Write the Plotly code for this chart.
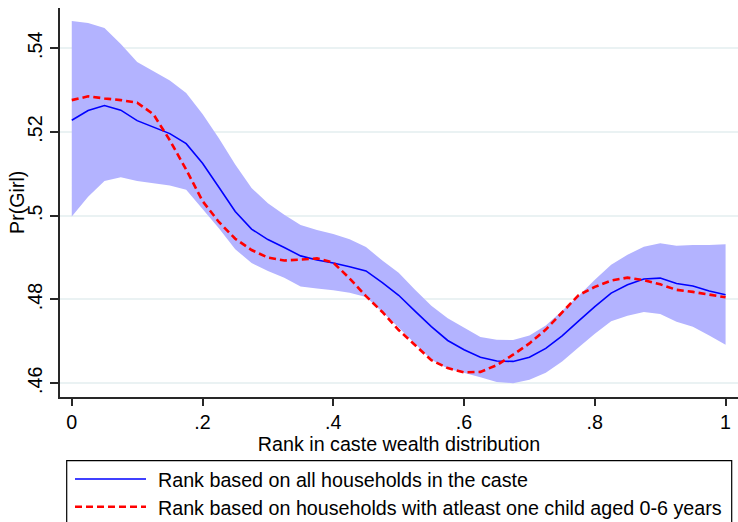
import plotly.graph_objects as go

# Rank in caste wealth distribution (evaluation grid)
rank = [0.000, 0.025, 0.050, 0.075, 0.100, 0.125, 0.150, 0.175, 0.200, 0.225,
        0.250, 0.275, 0.300, 0.325, 0.350, 0.375, 0.400, 0.425, 0.450, 0.475,
        0.500, 0.525, 0.550, 0.575, 0.600, 0.625, 0.650, 0.675, 0.700, 0.725,
        0.750, 0.775, 0.800, 0.825, 0.850, 0.875, 0.900, 0.925, 0.950, 0.975,
        1.000]

# Pr(Girl), rank based on all households in the caste
pr_all = [0.5228, 0.5251, 0.5263, 0.5252, 0.5227, 0.5211, 0.5196, 0.5172, 0.5125, 0.5068,
          0.5010, 0.4968, 0.4943, 0.4924, 0.4904, 0.4894, 0.4887, 0.4878, 0.4868, 0.4840,
          0.4810, 0.4772, 0.4735, 0.4702, 0.4680, 0.4662, 0.4653, 0.4652, 0.4662, 0.4683,
          0.4713, 0.4748, 0.4783, 0.4815, 0.4835, 0.4849, 0.4851, 0.4838, 0.4832, 0.4820,
          0.4811]

# 95% confidence band for the all-household curve
ci_upper = [0.5465, 0.5460, 0.5448, 0.5410, 0.5367, 0.5344, 0.5323, 0.5293, 0.5243, 0.5185,
            0.5122, 0.5066, 0.5030, 0.5002, 0.4978, 0.4966, 0.4956, 0.4944, 0.4925, 0.4893,
            0.4864, 0.4823, 0.4785, 0.4755, 0.4732, 0.4710, 0.4704, 0.4703, 0.4714, 0.4738,
            0.4773, 0.4808, 0.4847, 0.4883, 0.4907, 0.4926, 0.4934, 0.4928, 0.4930, 0.4930,
            0.4932]
ci_lower = [0.4998, 0.5045, 0.5083, 0.5092, 0.5083, 0.5078, 0.5072, 0.5062, 0.5015, 0.4970,
            0.4920, 0.4887, 0.4868, 0.4852, 0.4831, 0.4826, 0.4822, 0.4816, 0.4806, 0.4770,
            0.4733, 0.4695, 0.4656, 0.4635, 0.4624, 0.4614, 0.4603, 0.4600, 0.4608, 0.4625,
            0.4652, 0.4685, 0.4718, 0.4748, 0.4761, 0.4770, 0.4765, 0.4747, 0.4735, 0.4714,
            0.4692]

# Pr(Girl), rank based on households with at least one child aged 0-6
pr_child = [0.5276, 0.5285, 0.5280, 0.5276, 0.5270, 0.5242, 0.5180, 0.5110, 0.5035, 0.4985,
            0.4945, 0.4918, 0.4900, 0.4893, 0.4895, 0.4898, 0.4888, 0.4850, 0.4808, 0.4770,
            0.4727, 0.4690, 0.4655, 0.4636, 0.4626, 0.4627, 0.4643, 0.4668, 0.4695, 0.4728,
            0.4768, 0.4810, 0.4830, 0.4845, 0.4852, 0.4846, 0.4836, 0.4823, 0.4818, 0.4812,
            0.4805]

x_ticks = [0, 0.2, 0.4, 0.6, 0.8, 1]
x_tick_text = ["0", ".2", ".4", ".6", ".8", "1"]
y_ticks = [0.46, 0.48, 0.50, 0.52, 0.54]
y_tick_text = [".46", ".48", ".5", ".52", ".54"]

legend_labels = ["Rank based on all households in the caste",
                 "Rank based on households with atleast one child aged 0-6 years"]

FONT = "Liberation Sans, Arial, sans-serif"
FS = 19.7
BAND = "rgb(179,179,255)"
BLUE = "rgb(0,0,255)"
RED = "rgb(255,0,0)"
AXIS = "rgb(40,40,40)"
GRID = "rgb(234,242,243)"

W, H = 738, 522
L, R, T, B = 60, 0, 8, 125
PW, PH = W - L - R, H - T - B

fig = go.Figure()

fig.add_trace(go.Scatter(
    x=rank + rank[::-1], y=ci_upper + ci_lower[::-1],
    fill="toself", fillcolor=BAND, line=dict(width=0, color=BAND),
    mode="lines", hoverinfo="skip", showlegend=False))

fig.add_trace(go.Scatter(
    x=rank, y=pr_all, mode="lines", name=legend_labels[0],
    line=dict(color=BLUE, width=1.6), showlegend=False))

fig.add_trace(go.Scatter(
    x=rank, y=pr_child, mode="lines", name=legend_labels[1],
    line=dict(color=RED, width=2.6, dash="7px,4px"), showlegend=False))


def px_x(p):
    return (p - L) / PW


def px_y(p):
    return (H - B - p) / PH


# Legend box drawn in paper space below the axis title
shapes = [dict(type="rect", xref="paper", yref="paper",
               x0=px_x(66.7), x1=px_x(731.7), y0=px_y(460.7), y1=px_y(540),
               line=dict(color="black", width=1.2), fillcolor="white", layer="above")]
annotations = []
legend_rows = [(479.0, BLUE, "solid", 1.6), (506.7, RED, "7px,4px", 2.6)]
for (ry, col, dash, w), label in zip(legend_rows, legend_labels):
    shapes.append(dict(type="line", xref="paper", yref="paper",
                       x0=px_x(75), x1=px_x(146), y0=px_y(ry), y1=px_y(ry),
                       line=dict(color=col, width=w, dash=dash), layer="above"))
    annotations.append(dict(xref="paper", yref="paper", x=px_x(155.5), y=px_y(ry + 1),
                            xanchor="left", yanchor="middle", showarrow=False,
                            text=label, font=dict(family=FONT, size=FS, color="black")))

# Vertical axis title, centred on the plot region
annotations.append(dict(xref="paper", yref="paper", x=px_x(16.5), y=0.5,
                        xanchor="center", yanchor="middle", textangle=-90,
                        showarrow=False, text="Pr(Girl)",
                        font=dict(family=FONT, size=FS, color="black")))

fig.update_layout(
    width=W, height=H,
    margin=dict(l=L, r=R, t=T, b=B, pad=0),
    paper_bgcolor="white", plot_bgcolor="white",
    font=dict(family=FONT, size=FS, color="black"),
    shapes=shapes, annotations=annotations,
    showlegend=False,
)

fig.update_xaxes(
    range=[-0.018, 1.019], tickvals=x_ticks, ticktext=x_tick_text,
    showgrid=False, zeroline=False,
    showline=True, linecolor=AXIS, linewidth=1.5,
    ticks="outside", ticklen=7, tickwidth=1.5, tickcolor=AXIS,
    tickfont=dict(family=FONT, size=FS, color="black"),
    title=dict(text="Rank in caste wealth distribution", standoff=0,
               font=dict(family=FONT, size=FS, color="black")),
)

fig.update_yaxes(
    range=[0.4567, 0.5496], tickvals=y_ticks, ticktext=y_tick_text,
    tickangle=-90,
    showgrid=True, gridcolor=GRID, gridwidth=1.5, zeroline=False,
    showline=True, linecolor=AXIS, linewidth=1.5,
    ticks="outside", ticklen=8, tickwidth=1.5, tickcolor=AXIS,
    tickfont=dict(family=FONT, size=FS, color="black"),
)

fig.write_html("out.html")
